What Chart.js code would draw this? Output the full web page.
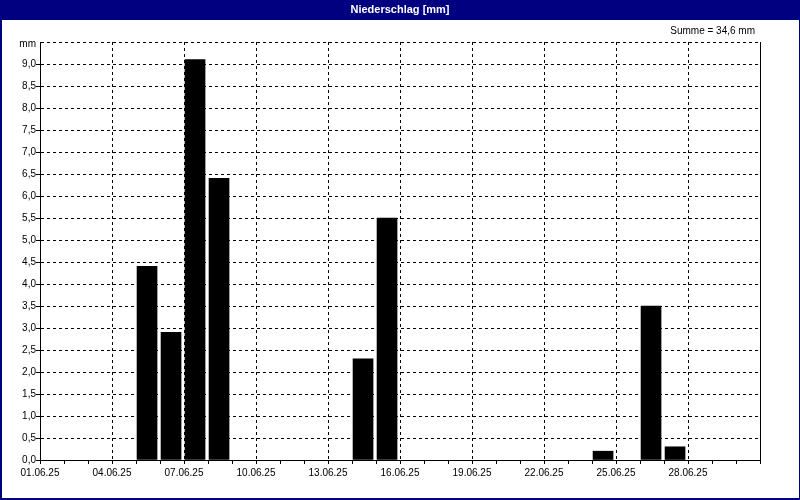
<!DOCTYPE html>
<html>
<head>
<meta charset="utf-8">
<script src="https://cdn.jsdelivr.net/npm/chart.js@4/dist/chart.umd.min.js"></script>
<style>
  html, body { margin: 0; padding: 0; background: #fff; }
  #wrap { width: 800px; height: 500px; }
</style>
</head>
<body>
<div id="wrap"><canvas id="c" width="800" height="500"></canvas></div>
<script>
// ---- data ----
const chartTitle = 'Niederschlag [mm]';
const unitLabel = 'mm';
const dayLabels = [
  '01.06.25','02.06.25','03.06.25','04.06.25','05.06.25','06.06.25','07.06.25','08.06.25','09.06.25','10.06.25',
  '11.06.25','12.06.25','13.06.25','14.06.25','15.06.25','16.06.25','17.06.25','18.06.25','19.06.25','20.06.25',
  '21.06.25','22.06.25','23.06.25','24.06.25','25.06.25','26.06.25','27.06.25','28.06.25','29.06.25','30.06.25'
];
const rainDays = ['05.06.25','06.06.25','07.06.25','08.06.25','14.06.25','15.06.25','24.06.25','26.06.25','27.06.25'];
const rainValues = [4.4, 2.9, 9.1, 6.4, 2.3, 5.5, 0.2, 3.5, 0.3];
const yMax = 9.5;
const yStep = 0.5;
const labelEvery = 3;

// ---- helpers ----
const fmt = v => v.toFixed(1).replace('.', ',');
const total = rainValues.reduce((a, b) => a + b, 0);
const sumText = 'Summe = ' + fmt(total) + ' ' + unitLabel;
const BAR_SHIFT = 0.46; // bar starts just after the day's tick

const FONT = { family: "'Liberation Sans', Arial, sans-serif", size: 10 };
const isTop = v => Math.abs(v - yMax) < 1e-9;

const framePlugin = {
  id: 'frame',
  beforeDraw(chart) {
    const ctx = chart.ctx;
    ctx.save();
    ctx.fillStyle = '#000080';
    ctx.fillRect(0, 0, chart.width, chart.height);
    ctx.fillStyle = '#ffffff';
    ctx.fillRect(2, 20, chart.width - 3, chart.height - 22);
    ctx.fillStyle = '#ffffff';
    ctx.font = "bold 11px 'Liberation Sans', Arial, sans-serif";
    ctx.textAlign = 'center';
    ctx.textBaseline = 'middle';
    ctx.fillText(chartTitle, chart.width / 2, 10);
    ctx.restore();
  },
  afterDraw(chart) {
    const ctx = chart.ctx;
    const a = chart.chartArea;
    ctx.save();
    ctx.strokeStyle = '#000';
    ctx.lineWidth = 1;
    ctx.beginPath();
    ctx.moveTo(Math.round(a.right) + 0.5, a.top);
    ctx.lineTo(Math.round(a.right) + 0.5, a.bottom);
    ctx.stroke();
    ctx.fillStyle = '#000';
    ctx.font = "10px 'Liberation Sans', Arial, sans-serif";
    ctx.textAlign = 'right';
    ctx.textBaseline = 'middle';
    ctx.fillText(sumText, a.right - 5, 31);
    ctx.restore();
  }
};

new Chart(document.getElementById('c'), {
  type: 'bar',
  data: {
    datasets: [{
      data: rainDays.map((d, i) => ({ x: dayLabels.indexOf(d) + BAR_SHIFT, y: rainValues[i] })),
      backgroundColor: '#000000',
      borderWidth: 0,
      barThickness: 20
    }]
  },
  options: {
    responsive: false,
    devicePixelRatio: 1,
    animation: false,
    layout: { padding: { left: 0, right: 40, top: 42, bottom: 0 } },
    plugins: { legend: { display: false }, title: { display: false }, tooltip: { enabled: false } },
    scales: {
      x: {
        type: 'linear',
        offset: false,
        min: 0,
        max: dayLabels.length,
        afterFit: s => { s.height = 40; },
        ticks: {
          stepSize: 1,
          autoSkip: false,
          maxRotation: 0,
          minRotation: 0,
          color: '#000',
          font: FONT,
          padding: 3,
          callback: v => (v % labelEvery === 0 && v < dayLabels.length) ? dayLabels[v] : ''
        },
        grid: {
          offset: false,
          color: c => (c.tick && c.tick.value % labelEvery === 0) ? '#000' : 'rgba(0,0,0,0)',
          lineWidth: 1,
          tickColor: '#000',
          tickLength: 4,
          tickBorderDash: []
        },
        border: { display: true, color: '#000', width: 1, dash: [3, 3] }
      },
      y: {
        min: 0,
        max: yMax,
        afterFit: s => { s.width = 40; },
        ticks: {
          stepSize: yStep,
          color: '#000',
          font: c => (c.tick && isTop(c.tick.value)) ? Object.assign({}, FONT, { lineHeight: 0.5 }) : FONT,
          padding: 0,
          callback: v => isTop(v) ? ['', unitLabel] : fmt(v)
        },
        grid: {
          color: '#000',
          lineWidth: 1,
          tickColor: c => (c.tick && isTop(c.tick.value)) ? 'rgba(0,0,0,0)' : '#000',
          tickLength: 4,
          tickBorderDash: []
        },
        border: { display: true, color: '#000', width: 1, dash: [3, 3] }
      }
    }
  },
  plugins: [framePlugin]
});
</script>
</body>
</html>
